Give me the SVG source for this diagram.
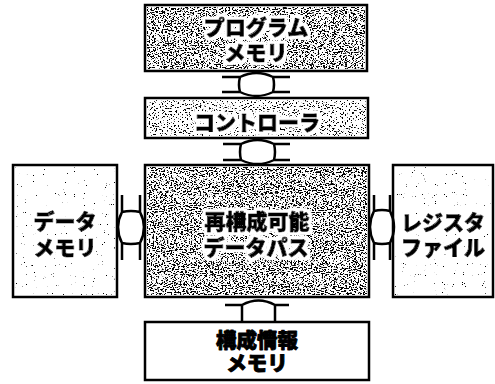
<svg xmlns="http://www.w3.org/2000/svg" width="495" height="384" viewBox="0 0 495 384">
<style>
.box{fill:#fff;stroke:#000;stroke-width:2.5}
.lbl{font-family:"Liberation Sans","Noto Sans CJK JP",sans-serif;font-weight:900;font-size:21px;text-anchor:middle;fill:#000;stroke:#000;stroke-width:0.9;stroke-linejoin:round}
.con path{fill:none;stroke:#000;stroke-width:2.5;stroke-linecap:butt}
</style>
<defs>
<filter id="dense" x="0" y="0" width="1" height="1">
<feTurbulence type="fractalNoise" baseFrequency="0.55 0.95" numOctaves="2" seed="4"/>
<feColorMatrix type="matrix" values="0 0 0 0 0  0 0 0 0 0  0 0 0 0 0  18 0 0 0 -9.5"/>
</filter>
<filter id="mid" x="0" y="0" width="1" height="1">
<feTurbulence type="fractalNoise" baseFrequency="0.55 0.95" numOctaves="2" seed="9"/>
<feColorMatrix type="matrix" values="0 0 0 0 0  0 0 0 0 0  0 0 0 0 0  18 0 0 0 -10.8"/>
</filter>
<filter id="light" x="0" y="0" width="1" height="1">
<feTurbulence type="fractalNoise" baseFrequency="0.9" numOctaves="1" seed="2"/>
<feColorMatrix type="matrix" values="0 0 0 0 0  0 0 0 0 0  0 0 0 0 0  30 0 0 0 -21.6"/>
</filter>
<filter id="halo" x="-10%" y="-20%" width="120%" height="140%">
<feMorphology in="SourceAlpha" operator="dilate" radius="2.5" result="d"/>
<feFlood flood-color="#fff"/>
<feComposite in2="d" operator="in" result="w"/>
<feMerge><feMergeNode in="w"/><feMergeNode in="SourceGraphic"/></feMerge>
</filter>
</defs>
<rect width="495" height="384" fill="#fff"/>

<g id="program-memory">
<rect class="box" x="145" y="5" width="222" height="66"/>
<rect x="147" y="7" width="218" height="62" filter="url(#dense)"/>
<text class="lbl" filter="url(#halo)" x="256" y="35">プログラム<tspan x="256" dy="25">メモリ</tspan></text>
</g>

<g id="controller">
<rect class="box" x="145" y="98" width="223" height="40"/>
<rect x="147" y="100" width="219" height="36" filter="url(#mid)"/>
<text class="lbl" filter="url(#halo)" x="257" y="130">コントローラ</text>
</g>

<g id="datapath">
<rect class="box" x="145" y="165" width="224" height="132"/>
<rect x="147" y="167" width="220" height="128" filter="url(#dense)"/>
<text class="lbl" filter="url(#halo)" x="257" y="229">再構成可能<tspan x="256" dy="26">データパス</tspan></text>
</g>

<g id="data-memory">
<rect class="box" x="13" y="165" width="104" height="132"/>
<rect x="15" y="167" width="100" height="128" filter="url(#light)"/>
<text class="lbl" filter="url(#halo)" x="65" y="229">データ<tspan x="65" dy="26">メモリ</tspan></text>
</g>

<g id="register-file">
<rect class="box" x="393" y="165" width="100" height="132"/>
<rect x="395" y="167" width="96" height="128" filter="url(#light)"/>
<text class="lbl" filter="url(#halo)" x="443" y="230">レジスタ<tspan x="443" dy="25">ファイル</tspan></text>
</g>

<g id="config-memory">
<rect class="box" x="145" y="322" width="224" height="58"/>
<text class="lbl" style="font-size:20.5px" x="257" y="348">構成情報<tspan x="257" dy="23">メモリ</tspan></text>
</g>

<g id="connectors" class="con">
<path d="M240,77 Q238,84.5 240,92 M273,77 Q275,84.5 273,92 M222,77 H240 Q256.5,69 273,77 H290 M222,92 H240 Q256.5,100 273,92 H290"/>
<path d="M241,144 Q239,152 241,160 M274,144 Q276,152 274,160 M223,144 H241 Q257.5,136 274,144 H290 M223,160 H241 Q257.5,168 274,160 H290"/>
<path d="M242,305 V322 M275,305 V322 M225,305 H242 Q258.5,296 275,305 H289"/>
<path d="M122,195 V212 Q114,227.5 122,243 V260 M140,195 V212 Q148,227.5 140,243 V260 M122,212 Q131,210 140,212 M122,243 Q131,245 140,243"/>
<path d="M374,195 V211 Q366,227 374,243 V260 M390,195 V211 Q398,227 390,243 V260 M374,211 Q382,209 390,211 M374,243 Q382,245 390,243"/>
</g>
</svg>
